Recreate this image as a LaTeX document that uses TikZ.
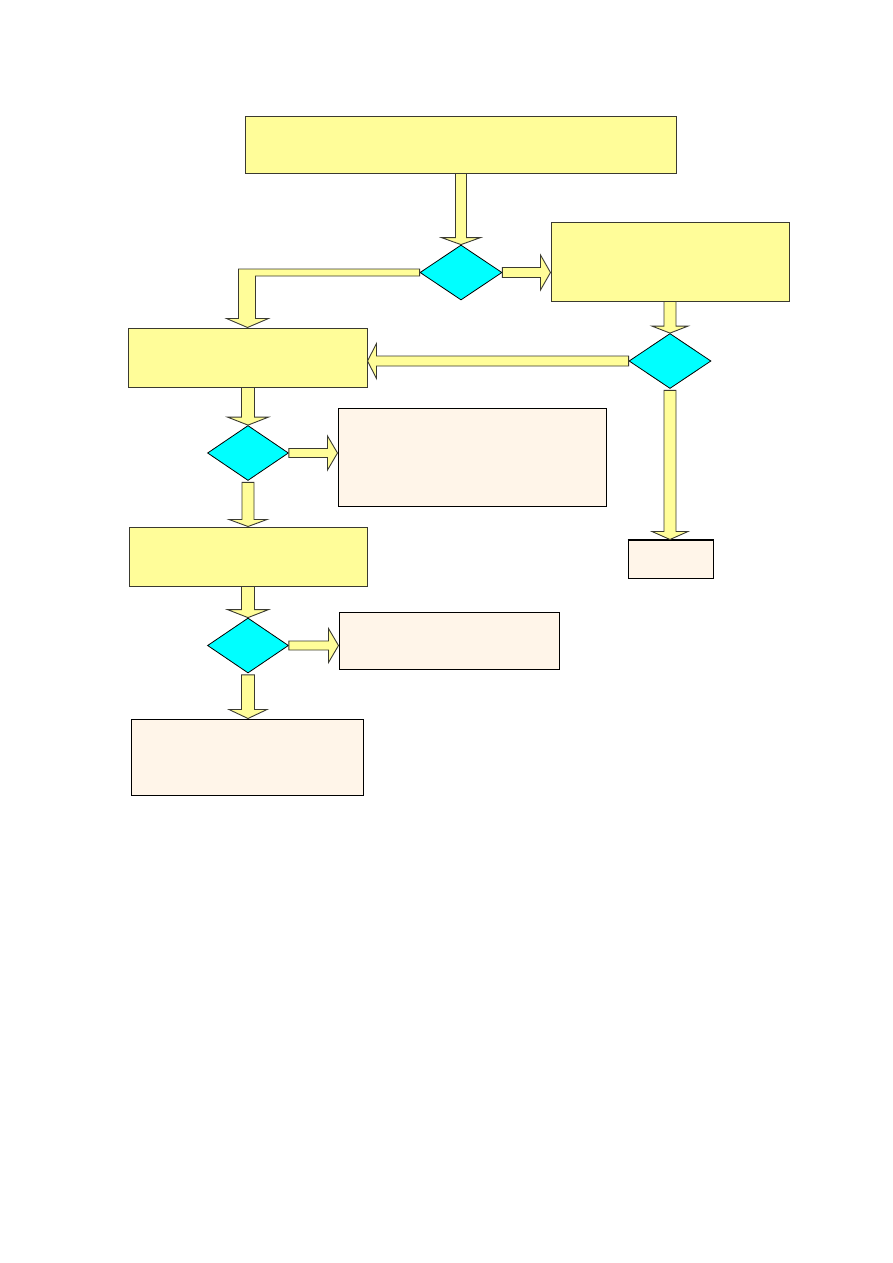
\documentclass[tikz,border=0pt]{standalone}
\usetikzlibrary{calc,shapes.geometric}
\definecolor{ylw}{HTML}{FFFD99}
\definecolor{cyn}{HTML}{00FFFF}
\definecolor{crm}{HTML}{FFF5E9}
\definecolor{edg}{HTML}{3A3A30}
\tikzset{
  ybox/.style={draw=edg,fill=ylw,line width=1pt,rectangle,inner sep=0pt},
  cbox/.style={draw=black,fill=crm,line width=1pt,rectangle,inner sep=0pt},
  dia/.style={draw=black,fill=cyn,line width=0.8pt,diamond,inner sep=0pt,aspect=1.5},
  blk/.style={draw=edg,fill=ylw,line width=0.9pt,line join=miter}
}
% vertical block arrow: from #1 down to #2, shaft half width #3, head half width #4, head length #5
\newcommand\blkdn[5]{\draw[blk] ($(#1)+(-#3,0)$) -- ($(#2)+(-#3,-#5)$) -- ($(#2)+(-#4,-#5)$) -- (#2) -- ($(#2)+(#4,-#5)$) -- ($(#2)+(#3,-#5)$) -- ($(#1)+(#3,0)$) -- cycle;}
% horizontal block arrow to the right: from #1 to #2
\newcommand\blkrt[5]{\draw[blk] ($(#1)+(0,-#3)$) -- ($(#2)+(-#5,-#3)$) -- ($(#2)+(-#5,-#4)$) -- (#2) -- ($(#2)+(-#5,#4)$) -- ($(#2)+(-#5,#3)$) -- ($(#1)+(0,#3)$) -- cycle;}
% horizontal block arrow to the left: from #1 to #2
\newcommand\blklt[5]{\draw[blk] ($(#1)+(0,-#3)$) -- ($(#2)+(#5,-#3)$) -- ($(#2)+(#5,-#4)$) -- (#2) -- ($(#2)+(#5,#4)$) -- ($(#2)+(#5,#3)$) -- ($(#1)+(0,#3)$) -- cycle;}
\begin{document}
\begin{tikzpicture}[x=1pt,y=-1pt]
\useasboundingbox (0,0) rectangle (893,1263);
% nodes
\node[ybox,minimum width=431pt,minimum height=57pt] (top) at (461,144.5) {};
\node[dia,minimum width=82pt,minimum height=55pt] (d1) at (461,272.5) {};
\node[ybox,minimum width=238pt,minimum height=79pt] (b2) at (670,261.5) {};
\node[dia,minimum width=82pt,minimum height=55pt] (d2) at (670,361) {};
\node[ybox,minimum width=239pt,minimum height=59pt] (b3) at (247.5,357.5) {};
\node[dia,minimum width=81pt,minimum height=55pt] (dl1) at (248,453) {};
\node[cbox,minimum width=268pt,minimum height=98pt] (c1) at (472,457) {};
\node[ybox,minimum width=238pt,minimum height=59pt] (b4) at (248,556.5) {};
\node[dia,minimum width=81pt,minimum height=55pt] (dl2) at (248,645.5) {};
\node[cbox,minimum width=220pt,minimum height=57pt] (c2) at (449,640.5) {};
\node[cbox,minimum width=232pt,minimum height=76pt] (c3) at (247,757) {};
\node[cbox,minimum width=85pt,minimum height=38pt] (sm) at (670.5,559) {};
\draw[line width=2pt] (sm.north west) -- (sm.north east);
% connectors
\blkdn{d1.north |- top.south}{d1.north}{5.5}{19.5}{7}
\blkrt{d1.east}{b2.west |- d1.east}{5}{17.5}{10}
\blkdn{d2.north |- b2.south}{d2.north}{6}{18}{7}
\blklt{d2.west}{b3.east |- d2.west}{5}{17.5}{9}
\coordinate (elb) at (b3.north |- d1.west);
\draw[blk] ($(d1.west)+(0,-3.5)$) -- ($(elb)+(-9,-3.5)$) -- ($(b3.north)+(-9,-9)$) -- ($(b3.north)+(-21,-9)$) -- (b3.north) -- ($(b3.north)+(21,-9)$) -- ($(b3.north)+(8,-9)$) -- ($(elb)+(8,3.5)$) -- ($(d1.west)+(0,3.5)$) -- cycle;
\blkdn{dl1.north |- b3.south}{dl1.north}{6.5}{20.5}{8}
\blkrt{dl1.east}{c1.west |- dl1.east}{4.5}{17}{10}
\blkdn{$(dl1.south)+(0,1.5)$}{b4.north}{6}{19}{7}
\blkdn{dl2.north |- b4.south}{dl2.north}{6.5}{20.5}{8}
\blkrt{dl2.east}{c2.west |- dl2.east}{4.5}{17}{10}
\blkdn{$(dl2.south)+(0,1.5)$}{c3.north -| dl2.south}{6.5}{19}{9}
\blkdn{$(d2.south)+(0,1.5)$}{sm.north -| d2.south}{6}{18}{8}
\end{tikzpicture}
\end{document}
